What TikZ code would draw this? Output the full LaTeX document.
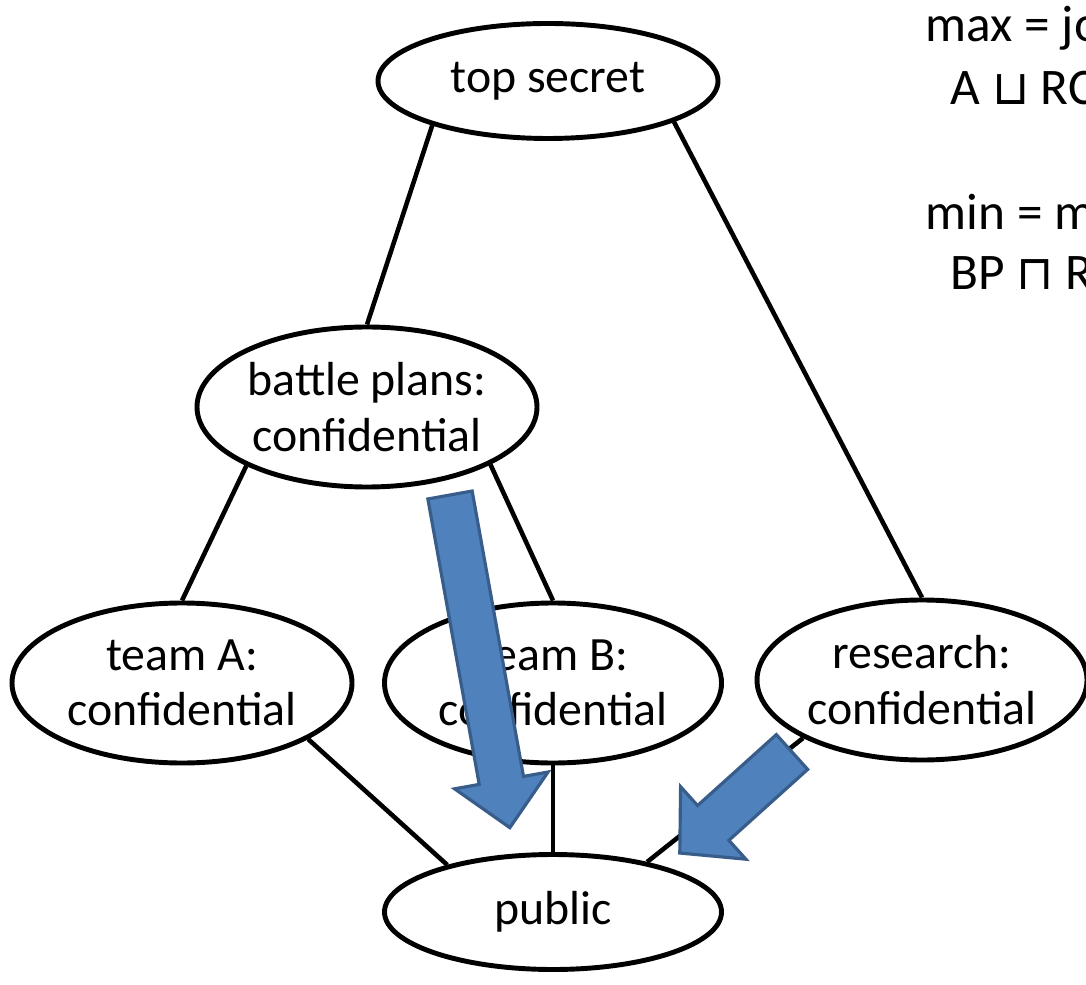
\documentclass[tikz,border=0pt]{standalone}
\usepackage{fontspec}
\setmainfont{Carlito}
\newfontfamily\symfont{DejaVu Sans}
\usetikzlibrary{shapes.geometric}
\definecolor{arrowfill}{HTML}{4F81BD}
\definecolor{arrowline}{HTML}{385D8A}
\tikzset{
  level/.style={ellipse, draw=black, line width=1.4pt, fill=white, inner sep=0pt,
    minimum width=3.4cm, minimum height=1.6cm, align=center,
    font=\fontsize{13.6}{15.8}\selectfont},
  flat/.style={level, minimum height=1.15cm},
  order/.style={black, line width=1.3pt},
  note/.style={anchor=base west, inner sep=0pt, font=\fontsize{14.6}{17}\selectfont},
  blockarrow/.style={fill=arrowfill, draw=arrowline, line width=0.9pt, line join=miter}
}
\begin{document}
\begin{tikzpicture}
\useasboundingbox (0,0) rectangle (10.86,-9.85);
\clip (0,0) rectangle (10.86,-9.85);
% lattice of levels
\node[flat]  (top)      at (5.48,-0.81) {top secret};
\node[level] (battle)   at (3.67,-4.07) {battle plans:\\confidential};
\node[level] (teamA)    at (1.82,-6.83) {team A:\\confidential};
\node[level, minimum width=3.37cm] (teamB) at (5.53,-6.83) {team B:\\confidential};
\node[level, minimum width=3.30cm] (research) at (9.22,-6.80) {research:\\confidential};
\node[flat, minimum width=3.37cm]  (public) at (5.53,-9.12) {public};
\draw[order] (top.201) -- (battle.north);
\draw[order] (top.342) -- (research.north);
\draw[order] (battle.206) -- (teamA.north);
\draw[order] (battle.335) -- (teamB.north);
\draw[order] (teamA.336) -- (public.156);
\draw[order] (teamB.south) -- (public.north);
\draw[order] (research.206) -- (public.28);
% notes
\node[note] (maxnote) at (9.25,-0.42) {max = join};
\node[note] (joinex)  at (9.50,-1.05) {A {\symfont\fontsize{13.6}{17}\selectfont ⊔} RC};
\node[note] (minnote) at (9.25,-2.30) {min = meet};
\node[note] (meetex)  at (9.50,-2.90) {BP {\symfont\fontsize{13.6}{17}\selectfont ⊓} R};
% flow arrows
\begin{scope}[shift={(4.50,-4.95)}, rotate=-79.8]
\draw[blockarrow] (0,-.225) -- (2.90,-.225) -- (2.90,-.475) -- (3.38,0)
  -- (2.90,.475) -- (2.90,.225) -- (0,.225) -- cycle;
\end{scope}
\begin{scope}[shift={(7.92,-7.52)}, rotate=222]
\draw[blockarrow] (0,-.234) -- (1.06,-.234) -- (1.06,-.488) -- (1.51,0)
  -- (1.06,.488) -- (1.06,.234) -- (0,.234) -- cycle;
\end{scope}
\end{tikzpicture}
\end{document}
